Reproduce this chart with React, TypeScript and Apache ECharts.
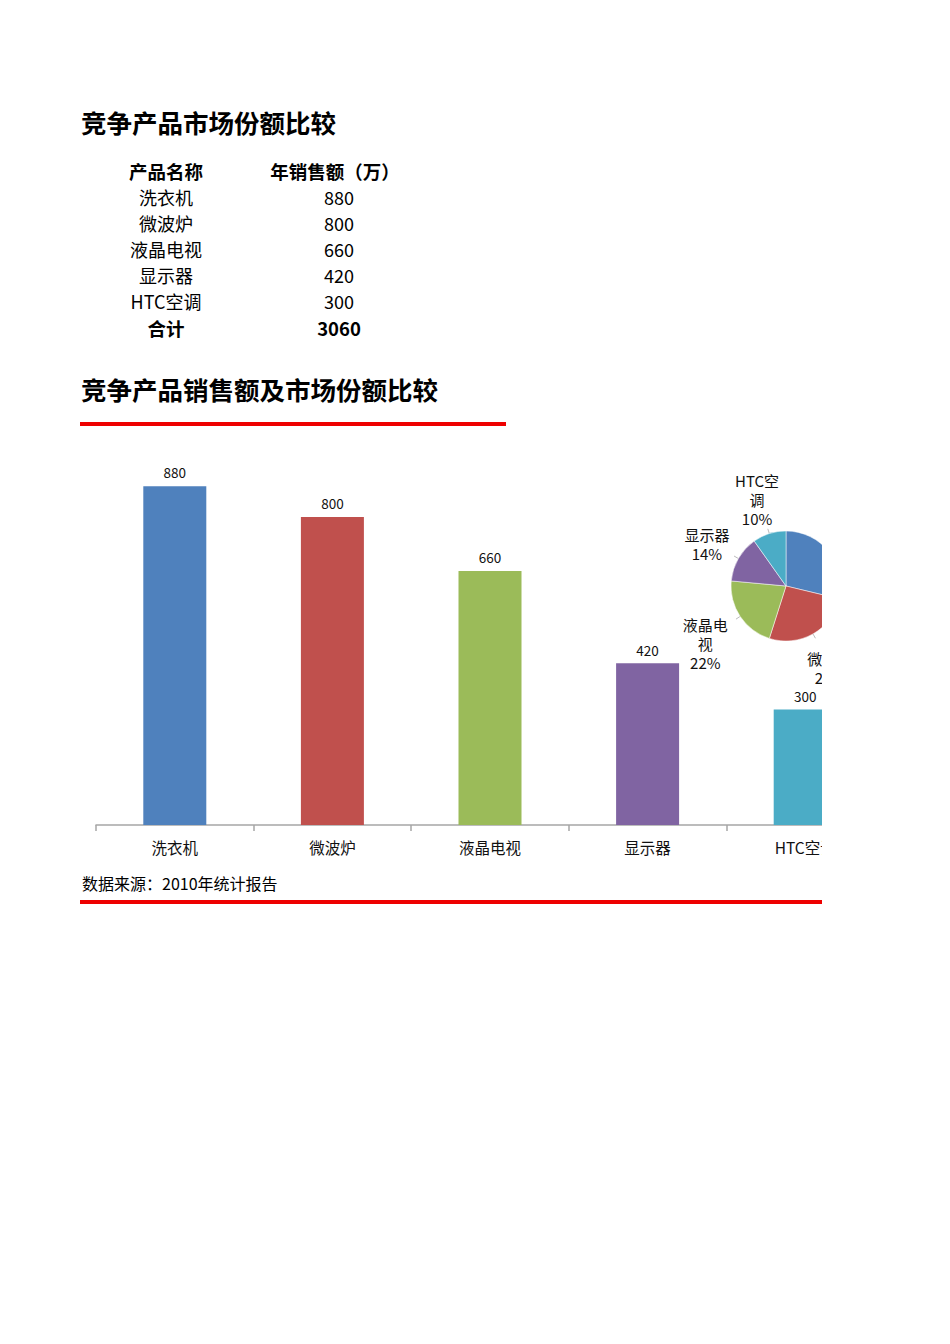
import React, { useEffect, useRef } from "react";
import * as echarts from "echarts";

const categories = ["洗衣机", "微波炉", "液晶电视", "显示器", "HTC空调"];
const sales = [880, 800, 660, 420, 300];
const totalLabel = "3060";
const colors = ["#4F81BD", "#C0504D", "#9BBB59", "#8064A2", "#4BACC6"];
const title1 = "竞争产品市场份额比较";
const title2 = "竞争产品销售额及市场份额比较";
const headers = ["产品名称", "年销售额（万）"];
const totalName = "合计";
const source = "数据来源：2010年统计报告";

const FONT = '"Noto Sans CJK SC", "Noto Sans", sans-serif';

const PIE_CX = 706;
const PIE_CY = 146;
const PIE_R = 55;

function Chart() {
  const ref = useRef<HTMLDivElement>(null);
  useEffect(() => {
    if (!ref.current) return;
    const chart = echarts.init(ref.current, null, { renderer: "svg" });
    const total = sales.reduce((a, b) => a + b, 0);
    const midAngles: number[] = [];
    let acc = 0;
    sales.forEach((v) => {
      midAngles.push(((acc + v / 2) / total) * Math.PI * 2);
      acc += v;
    });
    chart.setOption({
      animation: false,
      textStyle: { fontFamily: FONT },
      grid: { left: 16, right: 0, top: 0, bottom: 45 },
      xAxis: {
        type: "category",
        data: categories,
        axisLine: { lineStyle: { color: "#a6a6a6", width: 1.5 } },
        axisTick: { show: true, length: 6, lineStyle: { color: "#a6a6a6", width: 1.5 } },
        axisLabel: { color: "#111", fontSize: 15.5, margin: 14, fontFamily: FONT },
      },
      yAxis: {
        type: "value",
        min: 0,
        max: 1000,
        show: false,
        splitLine: { show: false },
      },
      series: [
        {
          type: "bar",
          data: sales.map((v, i) => ({ value: v, itemStyle: { color: colors[i] } })),
          barWidth: 63,
          label: {
            show: true,
            position: "top",
            distance: 7,
            color: "#111",
            fontSize: 13.5,
            fontFamily: FONT,
          },
        },
        {
          type: "pie",
          center: [PIE_CX, PIE_CY],
          radius: PIE_R,
          startAngle: 90,
          clockwise: true,
          data: categories.map((c, i) => ({ name: c, value: sales[i], itemStyle: { color: colors[i] } })),
          itemStyle: { borderColor: "#fff", borderWidth: 0.5 },
          label: {
            show: true,
            formatter: (p: any) => p.name + "\n" + Math.round(p.percent) + "%",
            color: "#111",
            fontSize: 15,
            lineHeight: 19,
            width: 48,
            overflow: "break",
            align: "center",
            fontFamily: FONT,
          },
          labelLine: { show: true, length: 4, length2: 2, lineStyle: { color: "#bbb" } },
          labelLayout: (params: any) => {
            const a = midAngles[params.dataIndex];
            const dx = Math.sin(a);
            const dy = -Math.cos(a);
            const w = params.labelRect.width;
            const h = params.labelRect.height;
            const half = Math.abs(dx) * w / 2 + Math.abs(dy) * h / 2;
            const d = PIE_R + 6 + half;
            return {
              x: PIE_CX + dx * d,
              y: PIE_CY + dy * d + 4,
              align: "center",
              verticalAlign: "middle",
              labelLinePoints: [
                [PIE_CX + dx * PIE_R, PIE_CY + dy * PIE_R],
                [PIE_CX + dx * (PIE_R + 5), PIE_CY + dy * (PIE_R + 5)],
                [PIE_CX + dx * (PIE_R + 5), PIE_CY + dy * (PIE_R + 5)],
              ],
            };
          },
        },
      ],
    });
    return () => chart.dispose();
  }, []);
  return (
    <div style={{ position: "absolute", left: 80, top: 440, width: 742, height: 430, overflow: "hidden" }}>
      <div ref={ref} style={{ position: "absolute", left: 0, top: 0, width: 804, height: 430 }} />
    </div>
  );
}

export default function App() {
  const rowY = [197, 223, 249, 275, 301];
  const cell = (text: string, cx: number, cy: number, size: number, bold: boolean, key: string) => (
    <div
      key={key}
      style={{
        position: "absolute",
        left: cx - 100,
        top: cy - 13,
        width: 200,
        height: 26,
        lineHeight: "26px",
        textAlign: "center",
        fontSize: size,
        fontWeight: bold ? 700 : 400,
        fontFamily: FONT,
        color: "#000",
        whiteSpace: "nowrap",
      }}
    >
      {text}
    </div>
  );
  return (
    <div style={{ position: "absolute", left: 0, top: 0, width: 950, height: 1344, background: "#fff", fontFamily: FONT }}>
      <div style={{ position: "absolute", left: 81, top: 104, fontSize: 25.5, fontWeight: 700, lineHeight: "36px", whiteSpace: "nowrap" }}>
        {title1}
      </div>
      {cell(headers[0], 166, 171, 18.5, true, "h0")}
      {cell(headers[1], 335, 171, 18.5, true, "h1")}
      {categories.map((c, i) => cell(c, 166, rowY[i], 18, false, "n" + i))}
      {sales.map((v, i) => cell(String(v), 339, rowY[i], 18, false, "v" + i))}
      {cell(totalName, 166, 328, 18.5, true, "tn")}
      {cell(totalLabel, 339, 328, 18.5, true, "tv")}
      <div style={{ position: "absolute", left: 81, top: 371, fontSize: 25.5, fontWeight: 700, lineHeight: "36px", whiteSpace: "nowrap" }}>
        {title2}
      </div>
      <div style={{ position: "absolute", left: 80, top: 422, width: 426, height: 4, background: "#EE0000" }} />
      <Chart />
      <div style={{ position: "absolute", left: 82, top: 872, fontSize: 16, lineHeight: "22px", whiteSpace: "nowrap", color: "#000" }}>
        {source}
      </div>
      <div style={{ position: "absolute", left: 80, top: 900, width: 742, height: 4, background: "#EE0000" }} />
    </div>
  );
}
